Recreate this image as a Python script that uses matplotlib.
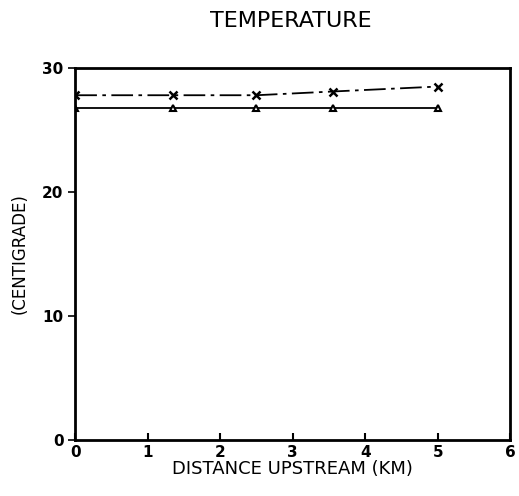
import numpy as np
import matplotlib.pyplot as plt

# Данные
distance = [0, 1.35, 2.5, 3.55, 5.0]
temp_x = [27.8, 27.8, 27.8, 28.1, 28.5]
temp_tri = [26.8, 26.8, 26.8, 26.8, 26.8]
x_ticks = [0, 1, 2, 3, 4, 5, 6]
y_ticks = [0, 10, 20, 30]

fig = plt.figure(figsize=(5.19, 4.96), dpi=100)
ax = fig.add_axes([0.145, 0.113, 0.838, 0.75])

ax.plot(distance, temp_x, color='black', linestyle=(0, (12, 3, 2, 3)), linewidth=1.3,
        marker='x', markersize=6, markeredgewidth=1.8)
ax.plot(distance, temp_tri, color='black', linestyle='-', linewidth=1.3,
        marker='^', markersize=5, markerfacecolor='white', markeredgewidth=1.5)

ax.set_xlim(0, 6)
ax.set_ylim(0, 30)
ax.set_xticks(x_ticks)
ax.set_yticks(y_ticks)
ax.tick_params(axis='x', direction='in', length=5, width=1.5, labelsize=11)
ax.tick_params(axis='y', direction='out', length=5, width=1.2, labelsize=11)
for lbl in ax.get_xticklabels() + ax.get_yticklabels():
    lbl.set_fontweight('bold')
for s in ax.spines.values():
    s.set_linewidth(2)

ax.set_xlabel('DISTANCE UPSTREAM (KM)', fontsize=13, labelpad=0)
ax.set_ylabel('(CENTIGRADE)', fontsize=12, labelpad=10)
fig.text(0.56, 0.958, 'TEMPERATURE', ha='center', va='center', fontsize=16)

plt.savefig('out.png', dpi=100)
plt.close()
